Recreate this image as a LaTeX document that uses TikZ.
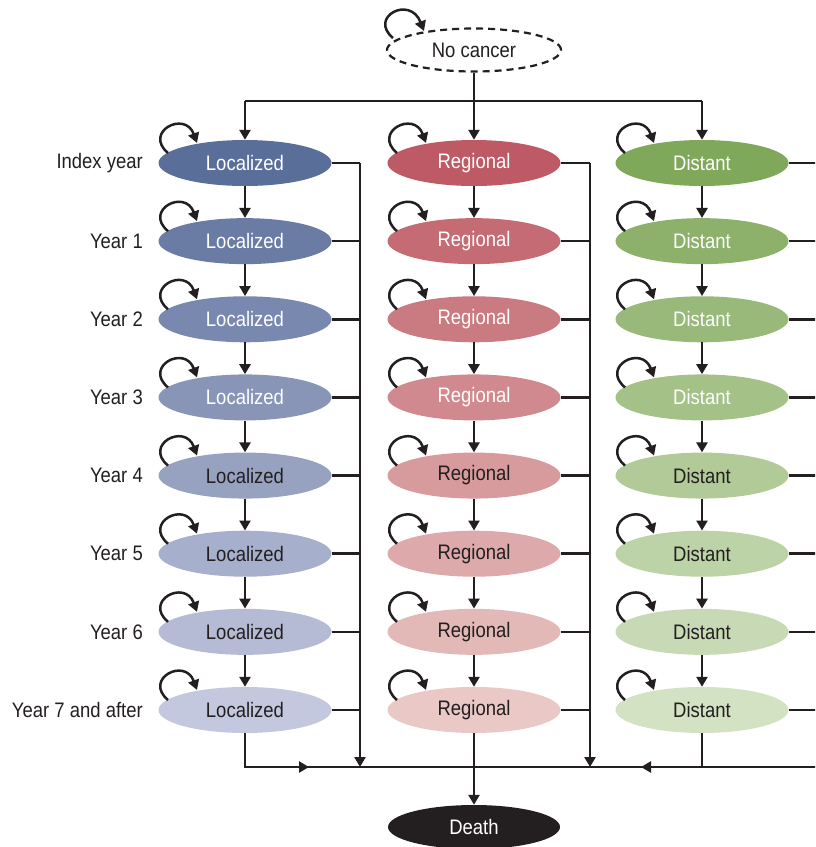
\documentclass[tikz,border=0pt]{standalone}
\usepackage{fontspec}
\setmainfont{Liberation Sans}[FakeStretch=0.88]
\usetikzlibrary{shapes.geometric,arrows.meta}
\definecolor{locA}{HTML}{5A6E9A}
\definecolor{locB}{HTML}{C4C8DE}
\definecolor{regA}{HTML}{BD5A65}
\definecolor{regB}{HTML}{E9C8C6}
\definecolor{disA}{HTML}{80A85B}
\definecolor{disB}{HTML}{D4E2C4}
\definecolor{ink}{HTML}{231F20}
\tikzset{
  state/.style={ellipse, minimum width=173pt, minimum height=46pt, inner sep=0pt,
    font=\fontsize{21}{25}\selectfont},
  conn/.style={line width=2.5pt, draw=ink},
  arr/.style={conn, -{Triangle[length=10pt,width=11pt]}},
  ylab/.style={anchor=east, inner sep=0pt, text=ink, font=\fontsize{21}{25}\selectfont},
}
\begin{document}
\begin{tikzpicture}[x=1pt,y=-1pt]
\useasboundingbox (0,0) rectangle (815,847);
\clip (0,0) rectangle (815,847);

% No cancer
\node[state, draw=ink, line width=2.2pt, dash pattern=on 7pt off 5pt, fill=white,
      minimum height=43pt, minimum width=174pt, text=ink] (nc) at (474,50) {No cancer};
\draw[arr, shift={(nc.center)}] (-81,-12) .. controls (-106,-33) and (-64,-55) .. (-50,-19);

% Death
\node[state, fill=ink, text=white, minimum height=44pt, minimum width=172pt] (death) at (474,827) {Death};

% states
\foreach \i/\lab in {1/Index year,2/Year 1,3/Year 2,4/Year 3,5/Year 4,6/Year 5,7/Year 6,8/Year 7 and after}{
  \pgfmathsetmacro{\yy}{163+(\i-1)*78.14}
  \pgfmathtruncatemacro{\pp}{100-(\i-1)*100/7}
  \ifnum\i<5 \def\tc{white}\else\def\tc{ink}\fi
  \node[state, fill=locA!\pp!locB, text=\tc] (L\i) at (245,\yy) {Localized};
  \node[state, fill=regA!\pp!regB, text=\tc] (R\i) at (474,\yy) {Regional};
  \node[state, fill=disA!\pp!disB, text=\tc] (D\i) at (702,\yy) {Distant};
  \node[ylab] (lab\i) at (143,\yy) {\lab};
  \foreach \c in {L,R,D}{
    \draw[arr, shift={(\c\i.center)}] (-77,-10) .. controls (-102,-31) and (-60,-53) .. (-48,-20);
  }
}

% vertical arrows between rows
\foreach \i [evaluate=\i as \j using int(\i+1)] in {1,...,7}{
  \foreach \c in {L,R,D}{
    \draw[arr] (\c\i.south) -- (\c\j.north);
  }
}

% top distribution
\coordinate (top) at (0,101);
\draw[conn] (L1.north |- top) -- (D1.north |- top);
\draw[arr] (nc.south) -- (R1.north);
\draw[arr] (L1.north |- top) -- (L1.north);
\draw[arr] (D1.north |- top) -- (D1.north);

% buses to death
\coordinate (lb) at (360,767);
\coordinate (rb) at (590,767);
\coordinate (db) at (823,767);
\foreach \i in {1,...,8}{
  \draw[conn] (L\i.east) -- (L\i.east -| lb);
  \draw[conn] (R\i.east) -- (R\i.east -| rb);
  \draw[conn] (D\i.east) -- (D\i.east -| db);
}
\draw[arr] (L1.east -| lb) -- (lb);
\draw[arr] (R1.east -| rb) -- (rb);
\draw[arr] (D1.east -| db) -- (db);

% bottom collector
\coordinate (ma) at (309,767);
\coordinate (mb) at (641,767);
\draw[conn] (L8.south) -- (L8.south |- lb) -- (db);
\draw[arr] (L8.south |- lb) -- (ma);
\draw[conn] (D8.south) -- (D8.south |- lb);
\draw[arr] (D8.south |- lb) -- (mb);
\draw[arr] (R8.south) -- (death.north);
\end{tikzpicture}
\end{document}
